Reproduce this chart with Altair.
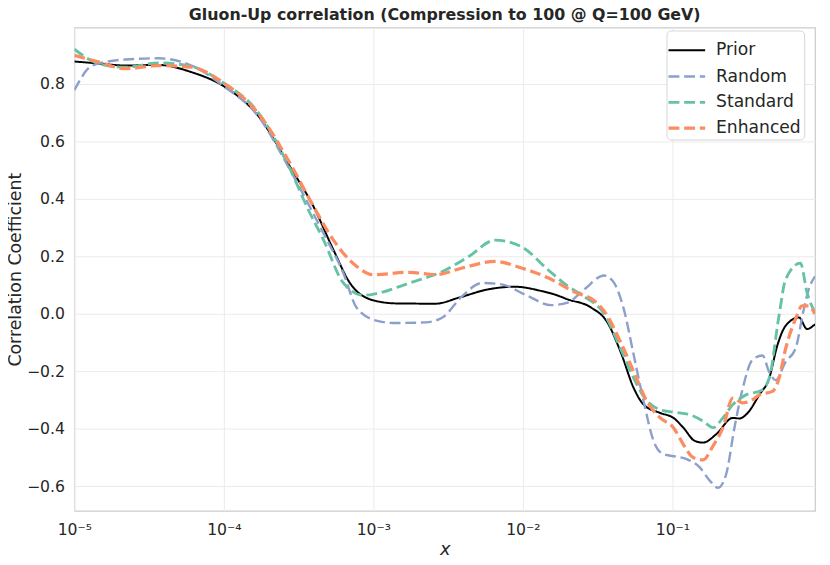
import altair as alt
import pandas as pd

series = ["Prior", "Random", "Standard", "Enhanced"]
colors = ["#000000", "#8da0cb", "#66c2a5", "#fc8d62"]

# log10(x) positions and correlation values
prior_e = [-5.0, -4.834, -4.658, -4.437, -4.217, -3.995, -3.775, -3.554, -3.399, -3.267, -3.157, -3.002, -2.848,
           -2.583, -2.428, -2.230, -2.053, -1.876, -1.788, -1.700, -1.545, -1.435, -1.346, -1.258, -1.192, -1.081,
           -0.993, -0.927, -0.850, -0.795, -0.707, -0.596, -0.552, -0.497, -0.419, -0.353, -0.298, -0.243, -0.154,
           -0.099, -0.046]
prior_v = [0.877, 0.870, 0.863, 0.865, 0.840, 0.789, 0.691, 0.508, 0.371, 0.222, 0.107, 0.047, 0.036,
           0.035, 0.056, 0.085, 0.094, 0.079, 0.067, 0.050, 0.022, -0.030, -0.133, -0.259, -0.316, -0.345,
           -0.362, -0.396, -0.442, -0.448, -0.419, -0.362, -0.364, -0.345, -0.282, -0.225, -0.110, -0.042, -0.013,
           -0.053, -0.036]

random_e = [-5.0, -4.879, -4.658, -4.437, -4.217, -3.995, -3.775, -3.554, -3.333, -3.201, -3.113, -2.980, -2.870,
            -2.649, -2.538, -2.406, -2.274, -2.141, -1.987, -1.810, -1.700, -1.589, -1.457, -1.391, -1.325, -1.258,
            -1.192, -1.126, -1.060, -0.972, -0.905, -0.817, -0.750, -0.695, -0.640, -0.585, -0.530, -0.464, -0.397,
            -0.353, -0.309, -0.243, -0.177, -0.121, -0.088, -0.046]
random_v = [0.777, 0.863, 0.884, 0.888, 0.863, 0.789, 0.690, 0.497, 0.279, 0.142, 0.022, -0.024, -0.032,
            -0.030, -0.013, 0.061, 0.107, 0.102, 0.067, 0.030, 0.039, 0.085, 0.133, 0.108, 0.016, -0.145,
            -0.305, -0.442, -0.488, -0.497, -0.505, -0.534, -0.580, -0.605, -0.557, -0.396, -0.260, -0.160, -0.145,
            -0.202, -0.231, -0.167, -0.122, 0.016, 0.085, 0.130]

standard_e = [-5.0, -4.834, -4.658, -4.437, -4.217, -3.995, -3.775, -3.554, -3.444, -3.333, -3.201, -3.068, -2.980,
              -2.760, -2.538, -2.362, -2.185, -2.009, -1.832, -1.700, -1.589, -1.457, -1.346, -1.258, -1.192, -1.081,
              -0.993, -0.883, -0.795, -0.728, -0.662, -0.596, -0.508, -0.409, -0.353, -0.287, -0.243, -0.144, -0.099,
              -0.046]
standard_v = [0.920, 0.869, 0.857, 0.872, 0.860, 0.800, 0.703, 0.500, 0.371, 0.256, 0.107, 0.064, 0.070,
              0.107, 0.147, 0.199, 0.256, 0.233, 0.153, 0.096, 0.060, 0.000, -0.122, -0.225, -0.288, -0.334,
              -0.342, -0.351, -0.373, -0.396, -0.362, -0.316, -0.282, -0.268, -0.225, -0.007, 0.119, 0.176, 0.073,
              0.004]

enhanced_e = [-5.0, -4.834, -4.658, -4.437, -4.217, -3.995, -3.775, -3.554, -3.422, -3.267, -3.113, -3.002, -2.760,
              -2.583, -2.406, -2.185, -2.009, -1.832, -1.656, -1.523, -1.457, -1.346, -1.258, -1.170, -1.081, -0.993,
              -0.927, -0.861, -0.795, -0.728, -0.662, -0.596, -0.530, -0.464, -0.419, -0.331, -0.287, -0.243, -0.177,
              -0.132, -0.088, -0.046]
enhanced_v = [0.898, 0.875, 0.852, 0.863, 0.857, 0.800, 0.700, 0.520, 0.394, 0.256, 0.165, 0.136, 0.144,
              0.136, 0.159, 0.182, 0.159, 0.125, 0.076, 0.045, 0.010, -0.099, -0.202, -0.305, -0.362, -0.396,
              -0.454, -0.500, -0.508, -0.459, -0.396, -0.293, -0.310, -0.299, -0.282, -0.270, -0.225, -0.122, -0.019,
              0.027, 0.027, -0.001]

x_ticks = [1e-5, 1e-4, 1e-3, 1e-2, 1e-1]
y_ticks = [-0.6, -0.4, -0.2, 0.0, 0.2, 0.4, 0.6, 0.8]

rows = []
for name, es, vs in [("Prior", prior_e, prior_v), ("Random", random_e, random_v),
                     ("Standard", standard_e, standard_v), ("Enhanced", enhanced_e, enhanced_v)]:
    for i, (e, v) in enumerate(zip(es, vs)):
        rows.append({"series": name, "x": 10 ** e, "corr": v, "order": i})
df = pd.DataFrame(rows)

legend = alt.Legend(
    title=None, orient="none", legendX=598, legendY=3,
    symbolType="M-1.17,0H1.17", symbolStrokeWidth=2.5, symbolSize=1000,
    labelFont="DejaVu Sans", labelFontSize=17.3, labelColor="#262626",
    fillColor="white", strokeColor="#d6d6d6", cornerRadius=4, padding=3,
    rowPadding=0, labelOffset=12,
)

label_expr = ("datum.value < 5e-5 ? '10⁻⁵' : datum.value < 5e-4 ? '10⁻⁴' : "
              "datum.value < 5e-3 ? '10⁻³' : datum.value < 5e-2 ? '10⁻²' : '10⁻¹'")

chart = alt.Chart(df).mark_line(interpolate="monotone", clip=True).encode(
    x=alt.X("x:Q",
            scale=alt.Scale(type="log", domain=[1e-5, 0.9], nice=False),
            axis=alt.Axis(values=x_ticks, labelExpr=label_expr, title="x", labelFlush=False,
                          labelPadding=12, titleFontStyle="italic", titlePadding=3)),
    y=alt.Y("corr:Q",
            scale=alt.Scale(domain=[-0.685, 0.995], nice=False, zero=False),
            axis=alt.Axis(values=y_ticks, format=".1f", title="Correlation Coefficient",
                          labelPadding=10, titlePadding=2, titleFontSize=17.5)),
    color=alt.Color("series:N", sort=series,
                    scale=alt.Scale(domain=series, range=colors), legend=legend),
    strokeDash=alt.StrokeDash("series:N", sort=series,
                              scale=alt.Scale(domain=series,
                                              range=[[1, 0], [11, 4.8], [11, 4.8], [11, 4.8]]),
                              legend=legend),
    strokeWidth=alt.StrokeWidth("series:N",
                                scale=alt.Scale(domain=series, range=[2, 3.3, 3.3, 3.3]),
                                legend=None),
    order="order:Q",
).properties(
    width=748, height=488,
    title=alt.TitleParams("Gluon-Up correlation (Compression to 100 @ Q=100 GeV)",
                          font="DejaVu Sans", fontSize=16, fontWeight="bold",
                          color="#262626", anchor="middle", offset=4.5),
    autosize=alt.AutoSizeParams(type="none"),
    padding={"left": 67, "top": 17, "right": 7, "bottom": 52},
).configure_view(
    stroke="#cccccc", strokeWidth=1.25
).configure_axis(
    domain=False, ticks=False, grid=True, gridColor="#ebebeb", gridWidth=1,
    labelFont="DejaVu Sans", labelFontSize=15.8, labelColor="#262626",
    titleFont="DejaVu Sans", titleFontSize=18, titleFontWeight="normal", titleColor="#262626",
)

chart.save("out.html", embed_options={"renderer": "svg", "actions": False})
